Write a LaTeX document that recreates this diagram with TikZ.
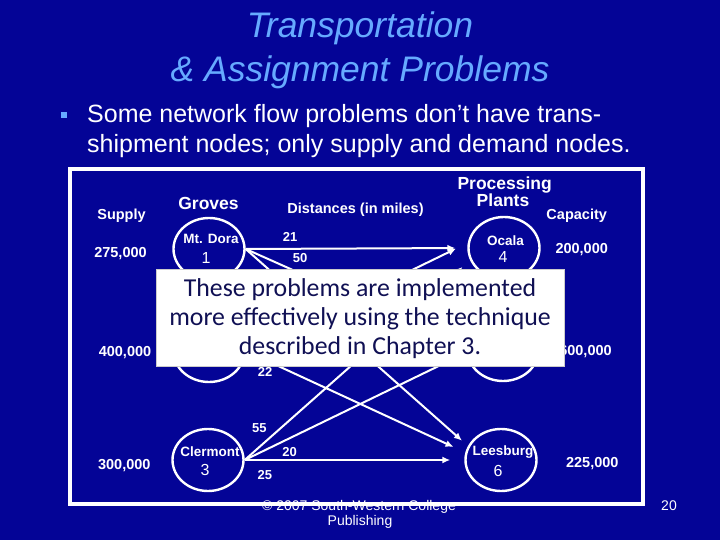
\documentclass[tikz,border=0pt]{standalone}
\usepackage{fontspec}
\setmainfont{Liberation Sans}
\newfontfamily\calfont{Carlito}
\usetikzlibrary{arrows.meta,shapes.geometric}
\definecolor{bgblue}{RGB}{4,4,150}
\definecolor{titleblue}{RGB}{102,170,255}
\definecolor{boxtext}{RGB}{16,16,84}
\tikzset{
  titletext/.style={text=titleblue,inner sep=0pt,font=\fontsize{35.5}{40}\selectfont\itshape},
  bodytext/.style={text=white,inner sep=0pt,font=\fontsize{25}{30}\selectfont},
  plant/.style={draw=white,line width=2.4pt,ellipse,minimum width=71pt,minimum height=62pt,inner sep=0pt},
  ntext/.style={text=white,inner sep=0pt,font=\fontsize{13.5}{16}\selectfont\bfseries},
  nnum/.style={text=white,inner sep=0pt,font=\fontsize{16}{18}\selectfont},
  lbl/.style={text=white,inner sep=0pt,font=\fontsize{14.5}{17}\selectfont\bfseries},
  hdr/.style={text=white,inner sep=0pt,font=\fontsize{17.5}{20}\selectfont\bfseries},
  elbl/.style={text=white,inner sep=0pt,font=\fontsize{13}{15}\selectfont\bfseries},
  flow/.style={draw=white,line width=2pt,-{Latex[length=8pt,width=7pt]}},
  boxline/.style={text=boxtext,inner sep=0pt,font=\calfont\fontsize{25.8}{29}\selectfont},
  foot/.style={text=white,inner sep=0pt,font=\fontsize{14}{16}\selectfont},
}
\begin{document}
\begin{tikzpicture}[x=1pt,y=-1pt]
\fill[bgblue] (0,0) rectangle (720,540);
\useasboundingbox (0,0) rectangle (720,540);

% title
\node[titletext,anchor=base] (t1) at (360,38) {Transportation};
\node[titletext,anchor=base] (t2) at (360,81.5) {\& Assignment Problems};

% bullet text
\node[fill=titleblue,minimum size=6pt,inner sep=0pt] (bullet) at (64,115) {};
\node[bodytext,anchor=base west] (b1) at (87,122.5) {Some network flow problems don’t have trans-};
\node[bodytext,anchor=base west] (b2) at (87,152.5) {shipment nodes; only supply and demand nodes.};

% frame
\node[draw=white,line width=3.5pt,minimum width=573pt,minimum height=335pt,inner sep=0pt] (frame) at (356.5,336.5) {};

% nodes
\node[plant] (n1) at (209,249) {};
\node[plant] (n2) at (209,351) {};
\node[plant] (n3) at (208,460) {};
\node[plant] (n4) at (504,248) {};
\node[plant] (n5) at (503,350) {};
\node[plant] (n6) at (501,460) {};

% flows
\draw[flow,shorten >=12pt] (n1.east) -- (n4.west);
\draw[flow,shorten >=12pt] (n1.east) -- (n5.176);
\draw[flow,shorten >=8pt] (n1.east) -- (n6.157);
\draw[flow,shorten >=13pt] (n2.east) -- (n4.172);
\draw[flow,shorten >=12pt] (n2.east) -- (n5.west);
\draw[flow,shorten >=13pt] (n2.east) -- (n6.168);
\draw[flow,shorten >=10pt] (n3.east) -- (n4.200);
\draw[flow,shorten >=12pt] (n3.east) -- (n5.184);
\draw[flow,shorten >=14pt] (n3.east) -- (n6.west);

% node texts
\node[ntext,anchor=base] (n1a) at (211,243.3) {Mt. Dora};
\node[nnum,anchor=base] (n1b) at (206,263.3) {1};
\node[ntext,anchor=base] (n3a) at (210,456.7) {Clermont};
\node[nnum,anchor=base] (n3b) at (205,475.7) {3};
\node[ntext,anchor=base] (n4a) at (505.5,245) {Ocala};
\node[nnum,anchor=base] (n4b) at (503,262.7) {4};
\node[ntext,anchor=base] (n6a) at (503,455) {Leesburg};
\node[nnum,anchor=base] (n6b) at (498,476.7) {6};

% headers and labels
\node[lbl,anchor=base] (supply) at (121.5,219.3) {Supply};
\node[hdr,anchor=base] (groves) at (208.5,209.3) {Groves};
\node[lbl,anchor=base] (dist) at (355.5,213.3) {Distances (in miles)};
\node[hdr,anchor=base] (proc1) at (504.7,190) {Processing};
\node[hdr,anchor=base] (proc2) at (503,206.7) {Plants};
\node[lbl,anchor=base] (cap) at (576.7,220) {Capacity};
\node[lbl,anchor=base] (s1) at (120.5,257.7) {275,000};
\node[lbl,anchor=base] (s2) at (125,356) {400,000};
\node[lbl,anchor=base] (s3) at (124.3,469) {300,000};
\node[lbl,anchor=base] (c1) at (581.7,253.3) {200,000};
\node[lbl,anchor=base] (c2) at (585.5,355) {600,000};
\node[lbl,anchor=base] (c3) at (592.3,467.3) {225,000};

% edge labels
\node[elbl,anchor=base] (e14) at (290,241) {21};
\node[elbl,anchor=base] (e15) at (300,262.7) {50};
\node[elbl,anchor=base] (e26) at (265,376.7) {22};
\node[elbl,anchor=base] (e34) at (259.3,432.7) {55};
\node[elbl,anchor=base] (e35) at (289.5,456.7) {20};
\node[elbl,anchor=base] (e36) at (264.8,479.3) {25};

% overlay box
\node[fill=white,draw=black!20,line width=0.5pt,minimum width=408pt,minimum height=97pt,inner sep=0pt] (note) at (360,317.5) {};
\node[boxline,anchor=base] (l1) at (360,296) {These problems are implemented};
\node[boxline,anchor=base] (l2) at (360,325) {more effectively using the technique};
\node[boxline,anchor=base] (l3) at (360,354) {described in Chapter 3.};

% footer
\node[foot,anchor=base] (f1) at (359,510) {© 2007 South-Western College};
\node[foot,anchor=base] (f2) at (360,525) {Publishing};
\node[foot,anchor=base] (page) at (669,510) {20};
\end{tikzpicture}
\end{document}
